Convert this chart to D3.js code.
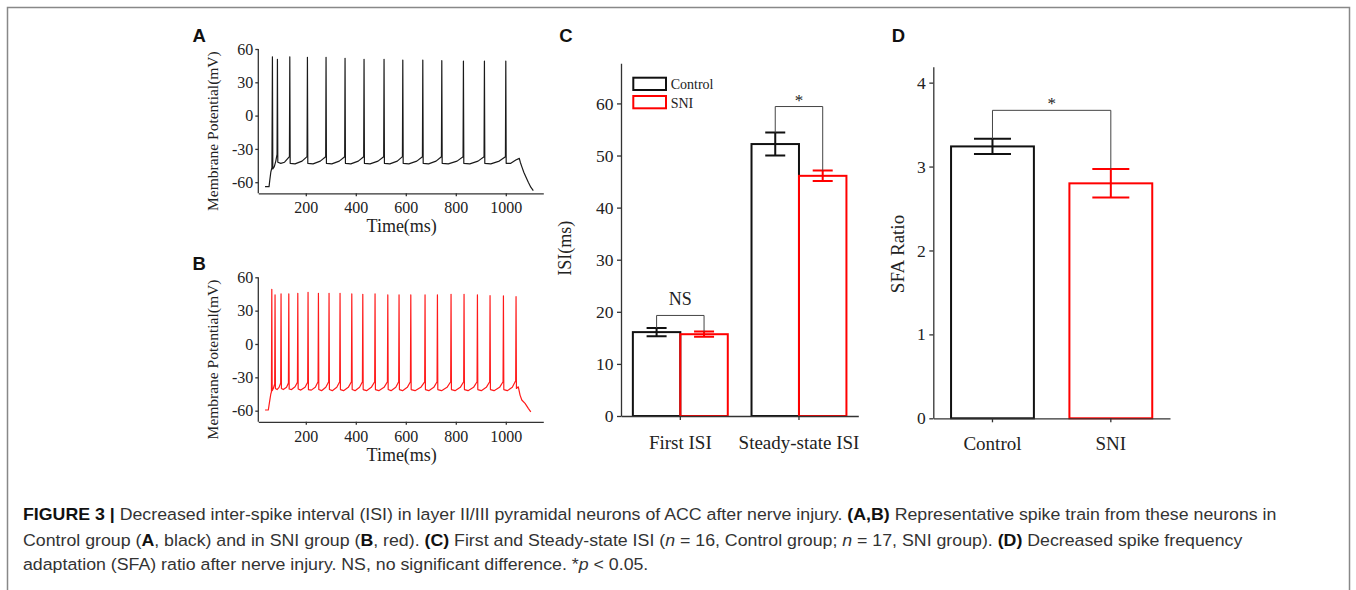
<!DOCTYPE html>
<html>
<head>
<meta charset="utf-8">
<script src="https://cdn.jsdelivr.net/npm/d3@7"></script>
<style>
  body { margin: 0; background: #fff; }
  svg { display: block; }
  .axis path, .axis line { stroke: #333; stroke-width: 1.3; }
  .axis text { font-family: "Liberation Serif", "Times New Roman", serif; fill: #222; }
  .lbl { font-family: "Liberation Serif", "Times New Roman", serif; fill: #222; }
  .panel { font-family: "Liberation Sans", Arial, sans-serif; font-weight: bold; font-size: 18.5px; fill: #111; }
  .cap { font-family: "Liberation Sans", Arial, sans-serif; font-size: 16.5px; fill: #333; }
</style>
</head>
<body>
<svg id="fig" width="1356" height="590"></svg>
<script>
// ---- A / B: representative spike trains, [time ms, potential mV]
const traceA = [
  [37,-64],[53,-64],[56,-58],[60,-51],[64.5,-47],
  [66.5,53],[68,-48],[74,-46],[80,-41],[85,-35],
  [86.5,50.7],[88,-42],[100,-43],[115,-42],[134.5,-37],
  [136,53],[137.5,-43],[157,-43.5],[185,-41],[205,-37],
  [206.5,52.5],[208,-43],[229,-43.5],[258,-41],[279.5,-37],
  [281,52.5],[282.5,-43],[304,-43.5],[334,-41],[355.5,-37],
  [357,51.6],[358.5,-43],[380,-43.5],[410,-41],[431.5,-37],
  [433,50.7],[434.5,-43],[457,-43.5],[489,-41],[511.5,-37],
  [513,50.7],[514.5,-43],[536,-43.5],[566,-41],[586.5,-37],
  [588,50],[589.5,-43],[612,-43.5],[644,-41],[666.5,-37],
  [668,50],[669.5,-43],[691,-43.5],[721,-41],[742.5,-37],
  [744,49.5],[745.5,-43],[770,-43.5],[805,-41],[829,-37],
  [830.5,49.2],[832,-43],[856,-43.5],[889,-41],[913,-37],
  [914.5,49.2],[916,-43],[940,-43.5],[974,-41],[998.5,-37],
  [1000,49.2],[1001.5,-43],[1020,-43],[1040,-40],[1054,-38.5],
  [1058,-42],[1064,-46],[1072,-51],[1080,-55],[1090,-60],[1100,-64.5],[1110,-67.5]
];

const traceB = [
  [37,-59.4],[50,-59.4],[55,-52],[60,-45],[62.5,-43],
  [64,49.2],[65.5,-42],[70,-40],[75.5,-36],
  [77,44.1],[78.5,-40],[85,-41],[93,-39],[99.5,-35],
  [101,45],[102.5,-40],[110,-41],[123,-39],[130.5,-35],
  [132,45],[133.5,-40.5],[143,-41],[157,-38.5],[166.5,-34.5],
  [168,45.6],[169.5,-40.5],[180,-41.5],[197,-39],[207.5,-34.5],
  [209,46.5],[210.5,-41],[222,-41.5],[238,-39],[249,-34],
  [250.5,45.6],[252,-41],[263,-42],[280,-39],[291.5,-34],
  [293,45.6],[294.5,-41],[306,-42],[324,-39],[335.5,-34],
  [337,45.6],[338.5,-41],[351,-42],[370,-39],[382.5,-34],
  [384,45],[385.5,-41],[397,-42],[415,-39],[426.5,-34],
  [428,44.7],[429.5,-41],[443,-42],[462,-39],[475.5,-34],
  [477,45],[478.5,-41],[492,-42],[513,-39],[526.5,-34],
  [528,44.1],[529.5,-41],[541,-42],[560,-39],[571.5,-34],
  [573,44.1],[574.5,-41],[587,-42],[606,-39],[618.5,-34],
  [620,44.1],[621.5,-41],[637,-42],[660,-39],[675.5,-34],
  [677,44.1],[678.5,-41],[692,-42],[712,-39],[725,-34],
  [726.5,44.1],[728,-41],[743,-42],[765,-39],[779.5,-34],
  [781,44.7],[782.5,-41],[797,-42],[818,-39],[831.5,-34],
  [833,44.7],[834.5,-41],[849,-42],[871,-39],[885,-34],
  [886.5,44.1],[888,-41],[902,-42],[922,-39],[935.5,-34],
  [937,43.5],[938.5,-41],[953,-42],[975,-39],[989,-34],
  [990.5,43.2],[992,-41],[1006,-42],[1026,-39],[1039.5,-33],
  [1041,42.6],[1042.5,-40],[1050,-38.5],[1057,-46],[1064,-50.4],
  [1077,-53.4],[1090,-57.9],[1100,-61]
];

const timeTicks = [200, 400, 600, 800, 1000];
const mvTicks = [-60, -30, 0, 30, 60];

// ---- C: inter-spike interval (ms), mean and SEM
const isiGroups = ["First ISI", "Steady-state ISI"];
const isiSeries = ["Control", "SNI"];
const isiControl = [16.1, 52.2];
const isiControlErr = [0.8, 2.2];
const isiSni = [15.7, 46.1];
const isiSniErr = [0.5, 1.0];
const isiSigLabels = ["NS", "*"];
const isiSigLevel = [19.3, 59.4];
const isiTicks = [0, 10, 20, 30, 40, 50, 60];

// ---- D: SFA ratio
const sfaGroups = ["Control", "SNI"];
const sfaMean = [3.24, 2.80];
const sfaErr = [0.09, 0.17];
const sfaSigLabel = "*";
const sfaSigLevel = 3.67;
const sfaTicks = [0, 1, 2, 3, 4];

const color = d3.scaleOrdinal().domain(["Control", "SNI"]).range(["#111", "#ff0000"]);
const plain = d => String(d);

const svg = d3.select("#fig");
svg.append("rect").attr("width", 1356).attr("height", 590).attr("fill", "#fff");
svg.append("rect")
  .attr("x", 7.5).attr("y", 7.5).attr("width", 1342).attr("height", 600)
  .attr("fill", "none").attr("stroke", "#888").attr("stroke-width", 1.5);

function panelLetter(txt, x, y) {
  svg.append("text").attr("class", "panel").attr("x", x).attr("y", y).text(txt);
}

function traceChart(data, stroke, top, bottom, letter) {
  const x = d3.scaleLinear().domain([10, 1150]).range([258.3, 543.3]);
  const y = d3.scaleLinear().domain([-70, 60]).range([bottom, top]);
  const g = svg.append("g");

  g.append("g").attr("class", "axis")
    .attr("transform", `translate(0,${bottom})`)
    .call(d3.axisBottom(x).tickValues(timeTicks).tickSize(3).tickSizeOuter(0).tickPadding(5.5)
      .tickFormat(plain))
    .call(a => a.selectAll("text").style("font-size", "16px"));

  g.append("g").attr("class", "axis")
    .attr("transform", `translate(${x.range()[0]},0)`)
    .call(d3.axisLeft(y).tickValues(mvTicks).tickSize(3).tickSizeOuter(0).tickPadding(2)
      .tickFormat(plain))
    .call(a => a.selectAll("text").style("font-size", "16px"))
    .call(a => a.select(".domain").attr("d", `M0,${bottom}V${y(60)}`));

  g.append("path")
    .datum(data)
    .attr("fill", "none")
    .attr("stroke", stroke)
    .attr("stroke-width", 1.2)
    .attr("stroke-linejoin", "round")
    .attr("d", d3.line().x(d => x(d[0])).y(d => y(d[1])));

  g.append("text").attr("class", "lbl")
    .attr("x", 401.7).attr("y", bottom + 39)
    .attr("text-anchor", "middle").style("font-size", "18px")
    .text("Time(ms)");

  const midY = (y(60) + bottom) / 2 + 10;
  g.append("text").attr("class", "lbl")
    .attr("transform", `translate(218,${midY}) rotate(-90)`)
    .attr("text-anchor", "middle").style("font-size", "15.5px")
    .text("Membrane Potential(mV)");

  panelLetter(letter, 192.5, top - 7.3);
}

traceChart(traceA, "#1a1a1a", 49, 193.3, "A");
traceChart(traceB, "#ff1a1a", 277.3, 421.8, "B");

// significance bracket between two whisker tops
function bracket(g, x1, y1, x2, y2, yTop, label, fs) {
  g.append("path")
    .attr("d", `M${x1},${y1}V${yTop}H${x2}V${y2}`)
    .attr("fill", "none").attr("stroke", "#444").attr("stroke-width", 1);
  g.append("text").attr("class", "lbl")
    .attr("x", (x1 + x2) / 2)
    .attr("y", label === "*" ? yTop - 1 : yTop - 10)
    .attr("text-anchor", "middle")
    .style("font-size", fs)
    .text(label);
}

function errorBar(g, cx, lo, hi, capW, stroke) {
  g.append("path")
    .attr("d", `M${cx},${lo}V${hi}M${cx - capW / 2},${lo}H${cx + capW / 2}M${cx - capW / 2},${hi}H${cx + capW / 2}`)
    .attr("fill", "none").attr("stroke", stroke).attr("stroke-width", 2);
}

// ---- panel C
(function () {
  const left = 621, right = 858.3, top = 63.3, bottom = 416;
  const x0 = d3.scaleBand().domain(isiGroups).range([left, right]).padding(0);
  const x1 = d3.scaleBand().domain(isiSeries).range([0, x0.bandwidth()]).paddingInner(0).paddingOuter(0.25);
  const y = d3.scaleLinear().domain([0, 67.7]).range([bottom, top]);
  const g = svg.append("g");

  const rows = [];
  isiGroups.forEach((grp, i) => {
    rows.push({ grp, s: "Control", v: isiControl[i], e: isiControlErr[i] });
    rows.push({ grp, s: "SNI", v: isiSni[i], e: isiSniErr[i] });
  });

  g.selectAll("rect.bar").data(rows).join("rect")
    .attr("class", "bar")
    .attr("x", d => x0(d.grp) + x1(d.s))
    .attr("y", d => y(d.v))
    .attr("width", x1.bandwidth())
    .attr("height", d => y(0) - y(d.v))
    .attr("fill", "none")
    .attr("stroke", d => color(d.s))
    .attr("stroke-width", 2);

  rows.forEach(d => {
    const cx = x0(d.grp) + x1(d.s) + x1.bandwidth() / 2;
    errorBar(g, cx, y(d.v - d.e), y(d.v + d.e), 20, color(d.s));
  });

  isiGroups.forEach((grp, i) => {
    const cxA = x0(grp) + x1("Control") + x1.bandwidth() / 2;
    const cxB = x0(grp) + x1("SNI") + x1.bandwidth() / 2;
    bracket(g, cxA, y(isiControl[i] + isiControlErr[i]), cxB, y(isiSni[i] + isiSniErr[i]),
      y(isiSigLevel[i]), isiSigLabels[i], isiSigLabels[i] === "*" ? "17px" : "18px");
  });

  g.append("g").attr("class", "axis")
    .attr("transform", `translate(0,${bottom})`)
    .call(d3.axisBottom(x0).tickSize(4).tickSizeOuter(0).tickPadding(16))
    .call(a => a.selectAll("text").style("font-size", "19px"));

  g.append("g").attr("class", "axis")
    .attr("transform", `translate(${left},0)`)
    .call(d3.axisLeft(y).tickValues(isiTicks).tickSize(4).tickSizeOuter(0).tickPadding(3.5)
      .tickFormat(plain))
    .call(a => a.selectAll("text").style("font-size", "17.5px"));

  // legend
  const lg = g.append("g").attr("transform", "translate(633.3,77.7)");
  isiSeries.forEach((s, i) => {
    lg.append("rect").attr("x", 0).attr("y", i * 18.3)
      .attr("width", 32.7).attr("height", 12.3)
      .attr("fill", "none").attr("stroke", color(s)).attr("stroke-width", 2);
    lg.append("text").attr("class", "lbl")
      .attr("x", 37.4).attr("y", i * 18.3 + 11.6)
      .style("font-size", "14px").text(s);
  });

  g.append("text").attr("class", "lbl")
    .attr("transform", `translate(571,248.3) rotate(-90)`)
    .attr("text-anchor", "middle").style("font-size", "18px")
    .text("ISI(ms)");

  panelLetter("C", 559.3, 41.7);
})();

// ---- panel D
(function () {
  const left = 933.3, right = 1170, top = 66.7, bottom = 418.3;
  const x = d3.scaleBand().domain(sfaGroups).range([left, right]).paddingInner(0.3).paddingOuter(0.15);
  const y = d3.scaleLinear().domain([0, 4.19]).range([bottom, top]);
  const g = svg.append("g");

  g.selectAll("rect.bar").data(sfaGroups).join("rect")
    .attr("class", "bar")
    .attr("x", d => x(d))
    .attr("y", (d, i) => y(sfaMean[i]))
    .attr("width", x.bandwidth())
    .attr("height", (d, i) => y(0) - y(sfaMean[i]))
    .attr("fill", "none")
    .attr("stroke", d => color(d))
    .attr("stroke-width", 2);

  sfaGroups.forEach((s, i) => {
    const cx = x(s) + x.bandwidth() / 2;
    errorBar(g, cx, y(sfaMean[i] - sfaErr[i]), y(sfaMean[i] + sfaErr[i]), 37, color(s));
  });

  const cxA = x("Control") + x.bandwidth() / 2;
  const cxB = x("SNI") + x.bandwidth() / 2;
  bracket(g, cxA, y(sfaMean[0] + sfaErr[0]), cxB, y(sfaMean[1] + sfaErr[1]),
    y(sfaSigLevel), sfaSigLabel, "17px");

  g.append("g").attr("class", "axis")
    .attr("transform", `translate(0,${bottom})`)
    .call(d3.axisBottom(x).tickSize(4).tickSizeOuter(0).tickPadding(14))
    .call(a => a.selectAll("text").style("font-size", "19px"));

  g.append("g").attr("class", "axis")
    .attr("transform", `translate(${left},0)`)
    .call(d3.axisLeft(y).tickValues(sfaTicks).tickSize(4).tickSizeOuter(0).tickPadding(3.5)
      .tickFormat(plain))
    .call(a => a.selectAll("text").style("font-size", "17.5px"));

  g.append("text").attr("class", "lbl")
    .attr("transform", `translate(904,254) rotate(-90)`)
    .attr("text-anchor", "middle").style("font-size", "19px")
    .text("SFA Ratio");

  panelLetter("D", 891.7, 41.7);
})();

// ---- caption
const captionLines = [
  [["FIGURE 3 |", "b"], [" Decreased inter-spike interval (ISI) in layer II/III pyramidal neurons of ACC after nerve injury. ", ""],
   ["(A,B)", "b"], [" Representative spike train from these neurons in", ""]],
  [["Control group (", ""], ["A", "b"], [", black) and in SNI group (", ""], ["B", "b"], [", red). ", ""], ["(C)", "b"],
   [" First and Steady-state ISI (", ""], ["n", "i"], [" = 16, Control group; ", ""], ["n", "i"], [" = 17, SNI group). ", ""],
   ["(D)", "b"], [" Decreased spike frequency", ""]],
  [["adaptation (SFA) ratio after nerve injury. NS, no significant difference. *", ""], ["p", "i"], [" < 0.05.", ""]]
];
const captionBase = [520, 545.5, 570];

const capNodes = captionLines.map((parts, i) => {
  const t = svg.append("text").attr("class", "cap").attr("x", 0).attr("y", 0)
    .attr("transform", `translate(23,${captionBase[i]})`);
  parts.forEach(([s, st]) => {
    t.append("tspan")
      .attr("font-weight", st === "b" ? "bold" : null)
      .attr("font-style", st === "i" ? "italic" : null)
      .attr("fill", st === "b" ? "#111" : null)
      .text(s);
  });
  return t;
});
const k = (1278 - 23) / capNodes[0].node().getComputedTextLength();
capNodes.forEach((t, i) => t.attr("transform", `translate(23,${captionBase[i]}) scale(${k},1)`));
</script>
</body>
</html>
